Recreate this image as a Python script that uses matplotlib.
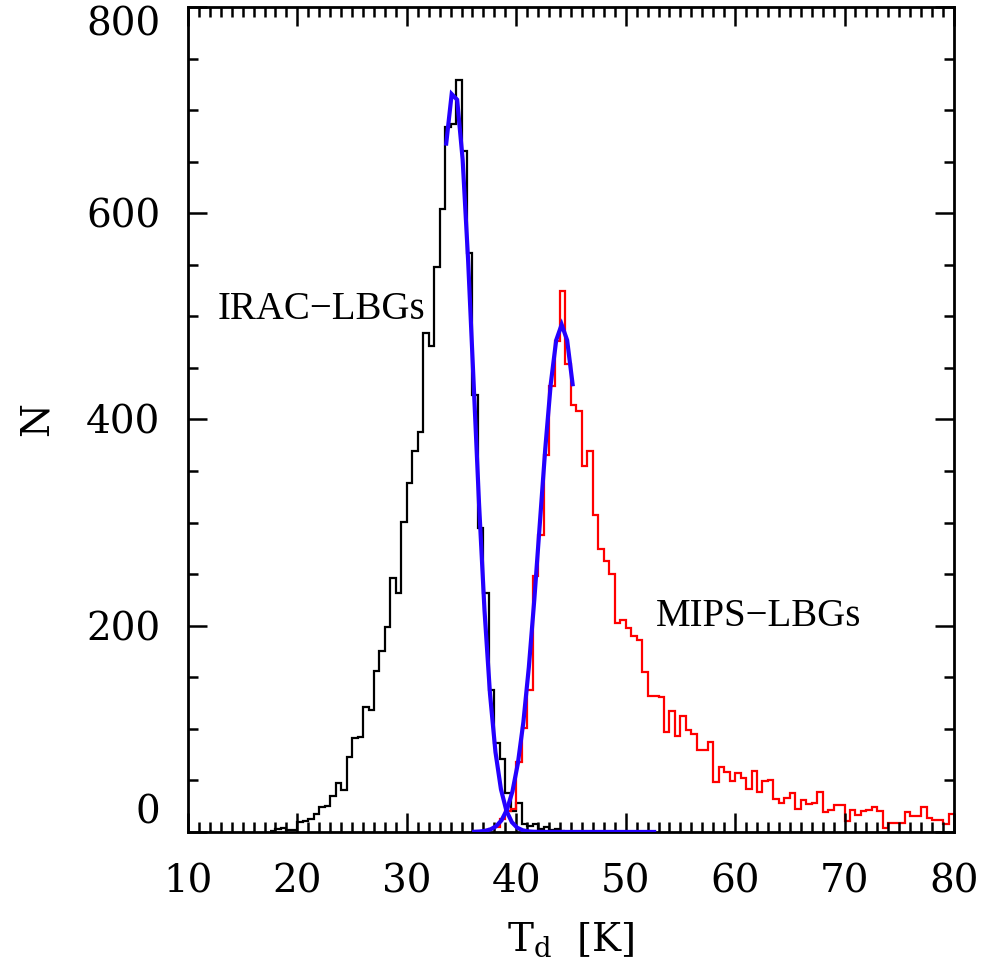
import numpy as np
import matplotlib
matplotlib.use('Agg')
import matplotlib.pyplot as plt
from matplotlib.ticker import MultipleLocator

# ---------------- data ----------------
bin_width = 0.5

irac_start = 17.5
irac_counts = [1, 3, 4, 2, 2, 10, 11, 13, 17, 24, 25, 35, 47, 41, 73, 91, 92,
               121, 118, 156, 175, 199, 246, 232, 301, 338, 369, 388, 484, 471,
               548, 604, 684, 687, 729, 660, 561, 424, 295, 232, 138, 86, 71,
               38, 20, 28, 8, 6, 8, 3, 5, 2, 3, 1]

mips_start = 37.0
mips_counts = [2, 3, 5, 13, 20, 22, 68, 101, 138, 248, 288, 366, 432, 476, 525,
               454, 414, 408, 355, 369, 307, 274, 263, 250, 203, 206, 198, 190,
               186, 155, 132, 132, 131, 97, 117, 93, 112, 99, 95, 79, 79, 87,
               48, 63, 58, 49, 57, 52, 42, 59, 39, 49, 50, 32, 28, 33, 38, 22,
               31, 27, 28, 39, 19, 21, 26, 26, 11, 21, 16, 20, 21, 24, 20, 4,
               9, 9, 9, 19, 15, 15, 24, 14, 12, 12, 8, 17]

# Gaussian fits (amplitude, centre, sigma, plotted range)
irac_fit = {"amp": 720.0, "mu": 34.3, "sigma": 1.8, "tmin": 33.6, "tmax": 52.6}
mips_fit = {"amp": 492.0, "mu": 44.15, "sigma": 2.0, "tmin": 36.15, "tmax": 45.15}
fit_step = 0.5

x_ticks = [10, 20, 30, 40, 50, 60, 70, 80]
y_ticks = [0, 200, 400, 600, 800]

# ---------------- figure ----------------
plt.rcParams['font.family'] = ['DejaVu Serif']
plt.rcParams['mathtext.fontset'] = 'dejavuserif'

fig = plt.figure(figsize=(9.84, 9.71), dpi=100)
ax = fig.add_axes([0.191, 0.1432, 0.7785, 0.8496])

irac_edges = irac_start + bin_width * np.arange(len(irac_counts) + 1)
mips_edges = mips_start + bin_width * np.arange(len(mips_counts) + 1)

ax.stairs(irac_counts, irac_edges, baseline=None, color='black', lw=1.6)
ax.stairs(mips_counts, mips_edges, baseline=None, color='#ff0000', lw=1.6)


def gauss_curve(p):
    t = np.arange(p["tmin"], p["tmax"] + 1e-6, fit_step)
    return t, p["amp"] * np.exp(-0.5 * ((t - p["mu"]) / p["sigma"]) ** 2)


for p in (irac_fit, mips_fit):
    t, g = gauss_curve(p)
    ax.plot(t, g, color='#2400ff', lw=3.0, solid_joinstyle='miter', zorder=5)

ax.set_xlim(10, 80)
ax.set_ylim(0, 800)
ax.set_xticks(x_ticks)
ax.set_yticks(y_ticks)
ax.xaxis.set_minor_locator(MultipleLocator(1))
ax.yaxis.set_minor_locator(MultipleLocator(50))
ax.tick_params(which='both', direction='in', top=True, right=True, width=1.8,
               labelsize=28)
ax.tick_params(which='major', length=14)
ax.tick_params(which='minor', length=7)
ax.tick_params(axis='x', pad=23)
ax.tick_params(axis='y', pad=20)
for s in ax.spines.values():
    s.set_linewidth(2.0)

labs = ax.get_yticklabels()
labs[0].set_va('bottom')
labs[-1].set_va('top')

ax.set_xlabel(r'T$_{\rm d}$  [K]', fontsize=28, labelpad=14)
ax.set_ylabel('N', fontsize=28, labelpad=22)

ax.text(12.7, 497, 'IRAC\u2212LBGs', fontsize=28, color='black',
        family='Liberation Serif')
ax.text(52.8, 200, 'MIPS\u2212LBGs', fontsize=28, color='black',
        family='Liberation Serif')

fig.savefig('out.png', dpi=100)
